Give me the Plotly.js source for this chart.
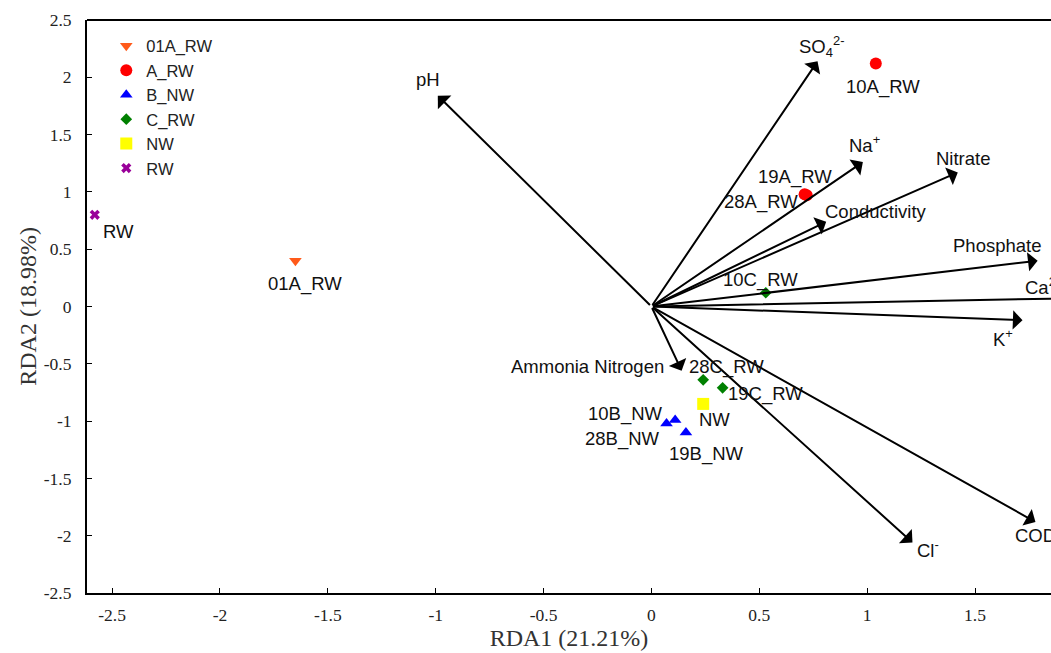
<!DOCTYPE html>
<html>
<head>
<meta charset="utf-8">
<script src="https://cdn.plot.ly/plotly-3.0.1.min.js"></script>
<style>html,body{margin:0;padding:0;background:#fff;}#chart{width:1051px;height:653px;}</style>
</head>
<body>
<div id="chart"></div>
<script>
// ---- Sample scores (RDA1, RDA2) ----
const groupNames = ["01A_RW", "A_RW", "B_NW", "C_RW", "NW", "RW"];
const groupLabels = [
  ["01A_RW"],
  ["10A_RW", "19A_RW", "28A_RW"],
  ["10B_NW", "28B_NW", "19B_NW"],
  ["10C_RW", "28C_RW", "19C_RW"],
  ["NW"],
  ["RW"]
];
const groupX = [
  [-1.65],
  [1.04, 0.72, 0.71],
  [0.11, 0.07, 0.16],
  [0.53, 0.24, 0.33],
  [0.24],
  [-2.58]
];
const groupY = [
  [0.40],
  [2.12, 0.97, 0.98],
  [-0.99, -1.02, -1.10],
  [0.12, -0.64, -0.71],
  [-0.85],
  [0.80]
];

// ---- Environmental vectors (arrow tips) ----
const vecNames = ["pH", "SO<sub>4</sub><sup>2-</sup>", "Na<sup>+</sup>", "Nitrate", "Conductivity",
  "Phosphate", "Ca<sup>2+</sup>", "K<sup>+</sup>", "Ammonia Nitrogen", "Cl<sup>-</sup>", "COD"];
const vecX = [-0.99, 0.77, 0.98, 1.42, 0.81, 1.79, 1.90, 1.72, 0.14, 1.21, 1.78];
const vecY = [1.84, 2.14, 1.26, 1.17, 0.74, 0.40, 0.07, -0.12, -0.56, -2.06, -1.88];

// ---- Styling (not data) ----
const symbols = ["triangle-down", "circle", "triangle-up", "diamond", "square", "x"];
const colors = ["#ff5a1a", "#ff0000", "#0000ff", "#008000", "#ffff00", "#990099"];
const sizes = [11, 12, 11, 9, 12, 9];
// pixel offsets for sample labels [dx, dy(down)]
const sampleOffsets = {
  "01A_RW": [10, 23], "10A_RW": [7, 23], "19A_RW": [-12, -18], "28A_RW": [-44, 8],
  "10B_NW": [-50, -6], "28B_NW": [-44, 16], "19B_NW": [21, 21],
  "10C_RW": [-5, -13], "28C_RW": [23, -13], "19C_RW": [43, 6], "NW": [11, 16], "RW": [24, 17]
};
// [dx, dy(down), xanchor]
const vecOffsets = [[-10, -16, "center"], [4, -15, "center"], [2, -18, "center"], [6, -14, "center"],
  [50, -10, "center"], [-41, -15, "center"], [-38, -12, "left"], [-20, 18, "center"],
  [-94, -4, "center"], [16, 6, "center"], [0, 14, "center"]];

const labelFont = {family: "Liberation Sans, Arial, sans-serif", size: 18.5, color: "#111"};

const traces = groupNames.map((g, i) => ({
  type: "scatter", mode: "markers", name: g,
  x: groupX[i], y: groupY[i],
  marker: {symbol: symbols[i], color: colors[i], size: sizes[i], line: {width: 0}},
  hoverinfo: "skip"
}));

const xMax = 1.852;
const annotations = [];
vecNames.forEach((n, i) => {
  annotations.push({
    x: vecX[i], y: vecY[i], xref: "x", yref: "y",
    ax: 0, ay: 0, axref: "x", ayref: "y",
    text: "", showarrow: true, arrowhead: 1, arrowsize: 1.6, arrowwidth: 2,
    arrowcolor: "#000", standoff: 0, startstandoff: 0
  });
  const o = vecOffsets[i];
  // keep label anchor inside the visible range; shift to its place in pixels
  const ax = Math.min(vecX[i], xMax - 0.14);
  const extra = (vecX[i] - ax) * 215.75;
  annotations.push({
    x: ax, y: vecY[i], xref: "x", yref: "y",
    text: n, showarrow: false, font: labelFont, xanchor: o[2],
    xshift: o[0] + extra, yshift: -o[1]
  });
});
groupNames.forEach((g, i) => {
  groupLabels[i].forEach((lab, j) => {
    const o = sampleOffsets[lab];
    annotations.push({
      x: groupX[i][j], y: groupY[i][j], xref: "x", yref: "y",
      text: lab, showarrow: false, font: labelFont,
      xshift: o[0], yshift: -o[1]
    });
  });
});

const serif = "Liberation Serif, Times New Roman, serif";
annotations.push({
  xref: "paper", yref: "paper", x: -0.062, y: 0.5, xanchor: "center", yanchor: "middle",
  text: "RDA2 (18.98%)", textangle: -90, showarrow: false,
  font: {family: serif, size: 24, color: "#333"}
});

const layout = {
  width: 1051, height: 653,
  margin: {l: 87, r: 0, t: 20, b: 60},
  paper_bgcolor: "#fff", plot_bgcolor: "#fff",
  showlegend: true,
  legend: {x: 0.02, y: 0.985, xanchor: "left", yanchor: "top",
    font: {family: "Liberation Sans, Arial, sans-serif", size: 16.5, color: "#222"},
    bgcolor: "rgba(0,0,0,0)", tracegroupgap: 0},
  xaxis: {
    range: [-2.616, xMax], showgrid: false, zeroline: false,
    showline: true, linecolor: "#000", linewidth: 2, mirror: false,
    ticks: "inside", ticklen: 5, tickwidth: 1, tickcolor: "#000",
    tickvals: [-2.5, -2, -1.5, -1, -0.5, 0, 0.5, 1, 1.5],
    ticktext: ["-2.5", "-2", "-1.5", "-1", "-0.5", "0", "0.5", "1", "1.5"],
    tickfont: {family: serif, size: 17.5, color: "#222"},
    ticklabelstandoff: 5,
    title: {text: "RDA1 (21.21%)", font: {family: serif, size: 24, color: "#333"}, standoff: 4}
  },
  yaxis: {
    range: [-2.5, 2.5], showgrid: false, zeroline: false,
    showline: true, linecolor: "#000", linewidth: 2, mirror: false,
    ticks: "inside", ticklen: 5, tickwidth: 1, tickcolor: "#000",
    tickvals: [-2.5, -2, -1.5, -1, -0.5, 0, 0.5, 1, 1.5, 2, 2.5],
    ticktext: ["-2.5", "-2", "-1.5", "-1", "-0.5", "0", "0.5", "1", "1.5", "2", "2.5"],
    tickfont: {family: serif, size: 17.5, color: "#222"},
    ticklabelstandoff: 10
  },
  shapes: [{type: "line", xref: "paper", yref: "paper", x0: 0, x1: 1, y0: 1, y1: 1,
    line: {color: "#000", width: 2}}],
  annotations: annotations
};

Plotly.newPlot("chart", traces, layout, {displayModeBar: false, staticPlot: true});
</script>
</body>
</html>
